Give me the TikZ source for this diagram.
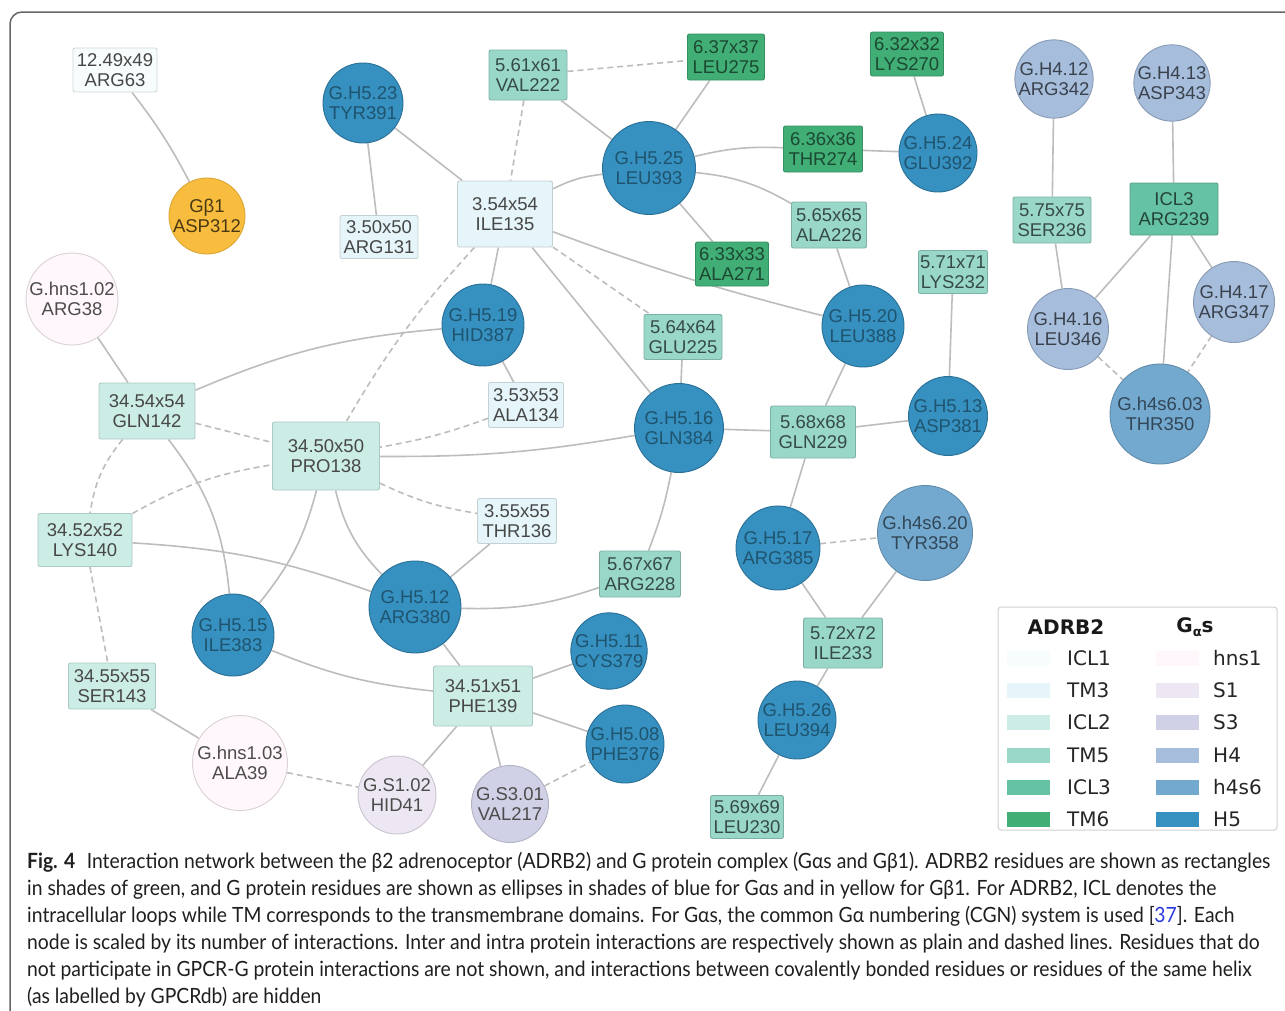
\documentclass[tikz,border=0pt]{standalone}
\usepackage{fontspec}
\newfontfamily\nodefont{Liberation Sans}
\newfontfamily\legfont{DejaVu Sans}
\newfontfamily\capfont[FakeStretch=0.92]{Lato}
\definecolor{cICLa}{HTML}{F7FCFD}
\definecolor{cTMc}{HTML}{E5F5F9}
\definecolor{cICLb}{HTML}{CCECE6}
\definecolor{cTMe}{HTML}{99D8C9}
\definecolor{cICLc}{HTML}{66C2A4}
\definecolor{cTMf}{HTML}{41AE76}
\definecolor{chns}{HTML}{FFF7FB}
\definecolor{cSa}{HTML}{ECE7F2}
\definecolor{cSc}{HTML}{D0D1E6}
\definecolor{cHd}{HTML}{A6BDDB}
\definecolor{chs}{HTML}{74A9CF}
\definecolor{cHe}{HTML}{3690C0}
\definecolor{cGb}{HTML}{F8BD3E}
\definecolor{edgec}{HTML}{BDBDBD}
\definecolor{framec}{HTML}{666666}
\definecolor{linkblue}{HTML}{2B3BE0}
\pgfdeclarelayer{bg}
\pgfdeclarelayer{edges}
\pgfsetlayers{bg,edges,main}
\tikzset{
  res/.style={draw, line width=0.9pt, inner sep=0pt, align=center,
    font=\nodefont\fontsize{18.5}{20}\selectfont},
  bx/.style={res, rectangle, rounded corners=2pt},
  cr/.style={res, circle},
  kICLa/.style={fill=cICLa, draw=cICLa!85!black, text=black!72},
  kTMc/.style={fill=cTMc, draw=cTMc!85!black, text=black!72},
  kICLb/.style={fill=cICLb, draw=cICLb!85!black, text=black!72},
  kTMe/.style={fill=cTMe, draw=cTMe!82!black, text=cTMe!35!black},
  kICLc/.style={fill=cICLc, draw=cICLc!82!black, text=cICLc!35!black},
  kTMf/.style={fill=cTMf, draw=cTMf!82!black, text=cTMf!42!black},
  kHns/.style={fill=chns, draw=chns!85!black, text=black!70},
  kSa/.style={fill=cSa, draw=cSa!85!black, text=black!70},
  kSc/.style={fill=cSc, draw=cSc!85!black, text=black!70},
  kHd/.style={fill=cHd, draw=cHd!82!black, text=cHd!35!black},
  kHs/.style={fill=chs, draw=chs!82!black, text=chs!42!black},
  kHe/.style={fill=cHe, draw=cHe!78!black, text=cHe!58!black},
  kGb/.style={fill=cGb, draw=cGb!88!black, text=cGb!30!black},
  inter/.style={draw=edgec, line width=1.6pt},
  intra/.style={draw=edgec, line width=1.6pt, dash pattern=on 6pt off 4pt},
  swatch/.style={minimum width=43pt, minimum height=15pt, inner sep=0pt},
  legl/.style={anchor=west, inner sep=0pt, text=black!85, font=\legfont\fontsize{20}{22}\selectfont},
  legt/.style={inner sep=0pt, text=black!90, font=\legfont\bfseries\fontsize{20}{22}\selectfont},
  captext/.style={anchor=base west, inner sep=0pt, text=black!88, font=\capfont\fontsize{21}{27}\selectfont}
}
\begin{document}
\begin{tikzpicture}[x=1pt,y=-1pt]
\useasboundingbox (0,0) rectangle (1285,1010);
\begin{pgfonlayer}{bg}
\fill[white] (0,0) rectangle (1285,1010);
\end{pgfonlayer}
\draw[framec, line width=1.5pt, rounded corners=12pt] (10,1012) -- (10,12) -- (1292,12);

% ---- rectangles (ADRB2)
\node[bx,kICLa,minimum width=84pt,minimum height=44pt] (arg63) at (115,70) {12.49x49\\ARG63};
\node[bx,kTMc,minimum width=78pt,minimum height=43pt] (arg131) at (379,237) {3.50x50\\ARG131};
\node[bx,kTMc,minimum width=95pt,minimum height=66pt] (ile135) at (505,214) {3.54x54\\ILE135};
\node[bx,kTMe,minimum width=78pt,minimum height=50pt] (val222) at (528,75) {5.61x61\\VAL222};
\node[bx,kTMf,minimum width=77pt,minimum height=46pt] (leu275) at (726,57) {6.37x37\\LEU275};
\node[bx,kTMf,minimum width=73pt,minimum height=44pt] (lys270) at (907,54) {6.32x32\\LYS270};
\node[bx,kTMf,minimum width=79pt,minimum height=46pt] (thr274) at (823,149) {6.36x36\\THR274};
\node[bx,kTMe,minimum width=75pt,minimum height=46pt] (ala226) at (829,225) {5.65x65\\ALA226};
\node[bx,kTMf,minimum width=73pt,minimum height=44pt] (ala271) at (732,264) {6.33x33\\ALA271};
\node[bx,kTMe,minimum width=69pt,minimum height=43pt] (lys232) at (953,272) {5.71x71\\LYS232};
\node[bx,kTMe,minimum width=78pt,minimum height=45pt] (glu225) at (683,337) {5.64x64\\GLU225};
\node[bx,kTMe,minimum width=85pt,minimum height=52pt] (gln229) at (813,432) {5.68x68\\GLN229};
\node[bx,kTMe,minimum width=81pt,minimum height=46pt] (arg228) at (640,574) {5.67x67\\ARG228};
\node[bx,kTMc,minimum width=79pt,minimum height=45pt] (thr136) at (517,521) {3.55x55\\THR136};
\node[bx,kTMc,minimum width=75pt,minimum height=45pt] (ala134) at (526,405) {3.53x53\\ALA134};
\node[bx,kICLb,minimum width=107pt,minimum height=68pt] (pro138) at (326,456) {34.50x50\\PRO138};
\node[bx,kICLb,minimum width=96pt,minimum height=56pt] (gln142) at (147,411) {34.54x54\\GLN142};
\node[bx,kICLb,minimum width=94pt,minimum height=53pt] (lys140) at (85,540) {34.52x52\\LYS140};
\node[bx,kICLb,minimum width=87pt,minimum height=46pt] (ser143) at (112,686) {34.55x55\\SER143};
\node[bx,kICLb,minimum width=99pt,minimum height=60pt] (phe139) at (483,696) {34.51x51\\PHE139};
\node[bx,kTMe,minimum width=79pt,minimum height=50pt] (ile233) at (843,643) {5.72x72\\ILE233};
\node[bx,kTMe,minimum width=73pt,minimum height=43pt] (leu230) at (747,817) {5.69x69\\LEU230};
\node[bx,kTMe,minimum width=78pt,minimum height=46pt] (ser236) at (1052,220) {5.75x75\\SER236};
\node[bx,kICLc,minimum width=88pt,minimum height=52pt] (arg239) at (1174,209) {ICL3\\ARG239};

% ---- circles (G protein)
\node[cr,kHe,minimum size=93pt] (leu393) at (649,168) {G.H5.25\\LEU393};
\node[cr,kHe,minimum size=78pt] (glu392) at (938,153) {G.H5.24\\GLU392};
\node[cr,kHe,minimum size=80pt] (tyr391) at (363,103) {G.H5.23\\TYR391};
\node[cr,kGb,minimum size=76pt] (asp312) at (207,216) {G\char"03B2 1\\ASP312};
\node[cr,kHns,minimum size=92pt] (arg38) at (72,299) {G.hns1.02\\ARG38};
\node[cr,kHe,minimum size=82pt] (hid387) at (483,325) {G.H5.19\\HID387};
\node[cr,kHe,minimum size=82pt] (leu388) at (863,326) {G.H5.20\\LEU388};
\node[cr,kHe,minimum size=89pt] (gln384) at (679,428) {G.H5.16\\GLN384};
\node[cr,kHe,minimum size=79pt] (asp381) at (948,416) {G.H5.13\\ASP381};
\node[cr,kHs,minimum size=95pt] (tyr358) at (925,533) {G.h4s6.20\\TYR358};
\node[cr,kHe,minimum size=84pt] (arg385) at (778,548) {G.H5.17\\ARG385};
\node[cr,kHe,minimum size=92pt] (arg380) at (415,607) {G.H5.12\\ARG380};
\node[cr,kHe,minimum size=82pt] (ile383) at (233,635) {G.H5.15\\ILE383};
\node[cr,kHe,minimum size=76pt] (cys379) at (609,651) {G.H5.11\\CYS379};
\node[cr,kHe,minimum size=78pt] (phe376) at (625,744) {G.H5.08\\PHE376};
\node[cr,kHe,minimum size=78pt] (leu394) at (797,720) {G.H5.26\\LEU394};
\node[cr,kHns,minimum size=95pt] (ala39) at (240,763) {G.hns1.03\\ALA39};
\node[cr,kSa,minimum size=78pt] (hid41) at (397,795) {G.S1.02\\HID41};
\node[cr,kSc,minimum size=77pt] (val217) at (510,804) {G.S3.01\\VAL217};
\node[cr,kHd,minimum size=75pt] (arg342) at (1054,79) {G.H4.12\\ARG342};
\node[cr,kHd,minimum size=76pt] (asp343) at (1172,83) {G.H4.13\\ASP343};
\node[cr,kHd,minimum size=81pt] (leu346) at (1068,329) {G.H4.16\\LEU346};
\node[cr,kHd,minimum size=81pt] (arg347) at (1234,302) {G.H4.17\\ARG347};
\node[cr,kHs,minimum size=100pt] (thr350) at (1160,414) {G.h4s6.03\\THR350};

% ---- connectors
\begin{pgfonlayer}{edges}
\draw[inter] (arg63) to[bend left=5] (asp312);
\draw[inter] (tyr391) -- (arg131);
\draw[inter] (tyr391) -- (ile135);
\draw[inter] (val222) -- (leu393);
\draw[inter] (leu275) -- (leu393);
\draw[inter] (leu393) to[bend right=10] (ile135);
\draw[inter] (leu393) to[bend left=8] (thr274);
\draw[inter] (thr274) -- (glu392);
\draw[inter] (lys270) -- (glu392);
\draw[inter] (leu393) to[bend left=12] (ala226);
\draw[inter] (leu393) -- (ala271);
\draw[inter] (ala226) -- (leu388);
\draw[inter] (ile135) to[bend right=3] (leu388);
\draw[inter] (ile135) -- (hid387);
\draw[inter] (ile135) -- (gln384);
\draw[inter] (hid387) -- (ala134);
\draw[inter] (hid387) to[bend right=9] (gln142);
\draw[inter] (glu225) -- (gln384);
\draw[inter] (gln384) to[bend left=5] (pro138);
\draw[inter] (gln384) -- (gln229);
\draw[inter] (gln229) -- (asp381);
\draw[inter] (gln229) -- (leu388);
\draw[inter] (lys232) -- (asp381);
\draw[inter] (gln229) -- (arg385);
\draw[inter] (gln384) to[bend left=5] (arg228);
\draw[inter] (arg380) to[bend right=10] (arg228);
\draw[inter] (arg385) -- (ile233);
\draw[inter] (tyr358) -- (ile233);
\draw[inter] (ile233) -- (leu394);
\draw[inter] (leu394) -- (leu230);
\draw[inter] (thr136) -- (arg380);
\draw[inter] (pro138) to[bend right=15] (arg380);
\draw[inter] (pro138) to[bend left=12] (ile383);
\draw[inter] (gln142) to[bend left=16] (ile383);
\draw[inter] (lys140) to[bend left=8] (arg380);
\draw[inter] (arg380) -- (phe139);
\draw[inter] (ile383) to[bend right=8] (phe139);
\draw[inter] (phe139) -- (cys379);
\draw[inter] (phe139) -- (phe376);
\draw[inter] (phe139) -- (hid41);
\draw[inter] (phe139) -- (val217);
\draw[inter] (arg38) -- (gln142);
\draw[inter] (ser143) -- (ala39);
\draw[inter] (arg342) -- (ser236);
\draw[inter] (ser236) -- (leu346);
\draw[inter] (asp343) -- (arg239);
\draw[inter] (arg239) -- (leu346);
\draw[inter] (arg239) -- (thr350);
\draw[inter] (arg239) -- (arg347);
% intra-protein (dashed)
\draw[intra] (val222) -- (leu275);
\draw[intra] (val222) -- (ile135);
\draw[intra] (ile135) -- (glu225);
\draw[intra] (ile135) to[bend right=6] (pro138);
\draw[intra] (ala134) to[bend left=5] (pro138);
\draw[intra] (gln142) -- (pro138);
\draw[intra] (lys140) to[bend left=10] (pro138);
\draw[intra] (pro138) to[bend right=8] (thr136);
\draw[intra] (gln142) to[bend right=15] (lys140);
\draw[intra] (lys140) -- (ser143);
\draw[intra] (ala39) -- (hid41);
\draw[intra] (val217) -- (phe376);
\draw[intra] (arg385) -- (tyr358);
\draw[intra] (leu346) -- (thr350);
\draw[intra] (arg347) -- (thr350);
\end{pgfonlayer}

% ---- legend
\node[draw=black!18, fill=white, line width=1pt, rounded corners=3pt, minimum width=279pt, minimum height=223pt, inner sep=0pt] (legend) at (1137.5,718.5) {};
\node[legt] (legA) at (1066,627) {ADRB2};
\node[legt] (legG) at (1195,627) {G\raisebox{-0.35ex}{\fontsize{13}{13}\selectfont\char"03B1}s};
\node[swatch, fill=cICLa] (swa1) at (1028,658) {};
\node[swatch, fill=cTMc]  (swa2) at (1028,690) {};
\node[swatch, fill=cICLb] (swa3) at (1028,722) {};
\node[swatch, fill=cTMe]  (swa4) at (1028,755) {};
\node[swatch, fill=cICLc] (swa5) at (1028,787) {};
\node[swatch, fill=cTMf]  (swa6) at (1028,819) {};
\node[legl] (lla1) at (1067,658) {ICL1};
\node[legl] (lla2) at (1067,690) {TM3};
\node[legl] (lla3) at (1067,722) {ICL2};
\node[legl] (lla4) at (1067,755) {TM5};
\node[legl] (lla5) at (1067,787) {ICL3};
\node[legl] (lla6) at (1067,819) {TM6};
\node[swatch, fill=chns] (swb1) at (1177,658) {};
\node[swatch, fill=cSa]  (swb2) at (1177,690) {};
\node[swatch, fill=cSc]  (swb3) at (1177,722) {};
\node[swatch, fill=cHd]  (swb4) at (1177,755) {};
\node[swatch, fill=chs]  (swb5) at (1177,787) {};
\node[swatch, fill=cHe]  (swb6) at (1177,819) {};
\node[legl] (llb1) at (1213,658) {hns1};
\node[legl] (llb2) at (1213,690) {S1};
\node[legl] (llb3) at (1213,722) {S3};
\node[legl] (llb4) at (1213,755) {H4};
\node[legl] (llb5) at (1213,787) {h4s6};
\node[legl] (llb6) at (1213,819) {H5};

% ---- caption
\node[captext] (cap1) at (27,868) {\textbf{Fig. 4}\hspace{0.55em}Interaction network between the β2 adrenoceptor (ADRB2) and G protein complex (Gαs and Gβ1). ADRB2 residues are shown as rectangles};
\node[captext] (cap2) at (27,895) {in shades of green, and G protein residues are shown as ellipses in shades of blue for Gαs and in yellow for Gβ1. For ADRB2, ICL denotes the};
\node[captext] (cap3) at (27,922) {intracellular loops while TM corresponds to the transmembrane domains. For Gαs, the common Gα numbering (CGN) system is used [\textcolor{linkblue}{37}]. Each};
\node[captext] (cap4) at (27,949) {node is scaled by its number of interactions. Inter and intra protein interactions are respectively shown as plain and dashed lines. Residues that do};
\node[captext] (cap5) at (27,976) {not participate in GPCR-G protein interactions are not shown, and interactions between covalently bonded residues or residues of the same helix};
\node[captext] (cap6) at (27,1003) {(as labelled by GPCRdb) are hidden};
\end{tikzpicture}
\end{document}
